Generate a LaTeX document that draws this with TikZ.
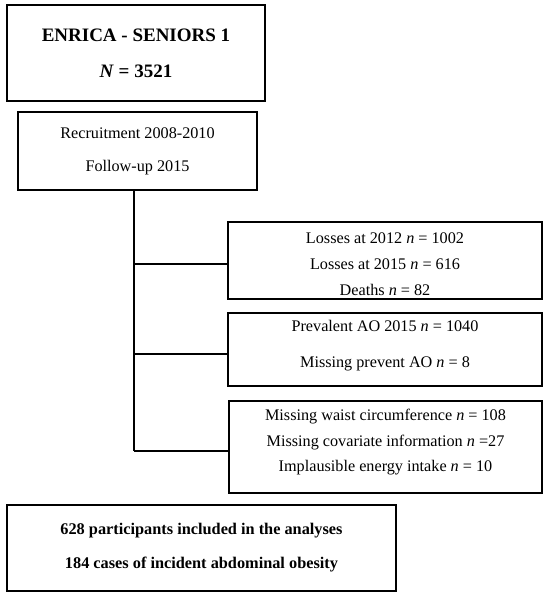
\documentclass[tikz,border=0pt]{standalone}
\usepackage{fontspec}
\setmainfont{Liberation Serif}
\begin{document}
\begin{tikzpicture}[x=1pt,y=-1pt,
  box/.style={draw,line width=1.3pt,rectangle,inner sep=0pt,align=center},
  conn/.style={line width=1.3pt}]
\useasboundingbox (0,0) rectangle (550,597);
\node[box,minimum width=258pt,minimum height=96pt,font=\bfseries\fontsize{19}{36}\selectfont] (b1) at (136,53)
  {ENRICA - SENIORS 1\\\textit{N} = 3521};
\node[box,minimum width=239pt,minimum height=78pt,font=\fontsize{16.2}{33}\selectfont] (b2) at (137.5,151)
  {Recruitment 2008-2010\\Follow-up 2015};
\node[box,minimum width=314pt,minimum height=77pt] (b3) at (385,260.5) {};
\node[align=center,font=\fontsize{16.2}{26}\selectfont] (t3) at (385,264)
  {Losses at 2012 \textit{n} = 1002\\Losses at 2015 \textit{n} = 616\\Deaths \textit{n} = 82};
\node[box,minimum width=314pt,minimum height=73pt] (b4) at (385,349.5) {};
\node[align=center,font=\fontsize{16.2}{36}\selectfont] (t4) at (385,346)
  {Prevalent AO 2015 \textit{n} = 1040\\Missing prevent AO \textit{n} = 8};
\node[box,minimum width=313pt,minimum height=92pt] (b5) at (385.5,447) {};
\node[align=center,font=\fontsize{16.2}{25.5}\selectfont] (t5) at (385.5,442.5)
  {Missing waist circumference \textit{n} = 108\\Missing covariate information \textit{n} =27\\Implausible energy intake \textit{n} = 10};
\node[box,minimum width=389pt,minimum height=86pt,font=\bfseries\fontsize{16.3}{34}\selectfont] (b6) at (201.5,548)
  {628 participants included in the analyses\\184 cases of incident abdominal obesity};
\coordinate (j1) at (134,264);
\coordinate (j2) at (134,354);
\coordinate (j3) at (134,451);
\draw[conn] (b2.south -| j3) -- (j3);
\draw[conn] (j1) -- (j1 -| b3.west);
\draw[conn] (j2) -- (j2 -| b4.west);
\draw[conn] (j3) -- (j3 -| b5.west);
\end{tikzpicture}
\end{document}
